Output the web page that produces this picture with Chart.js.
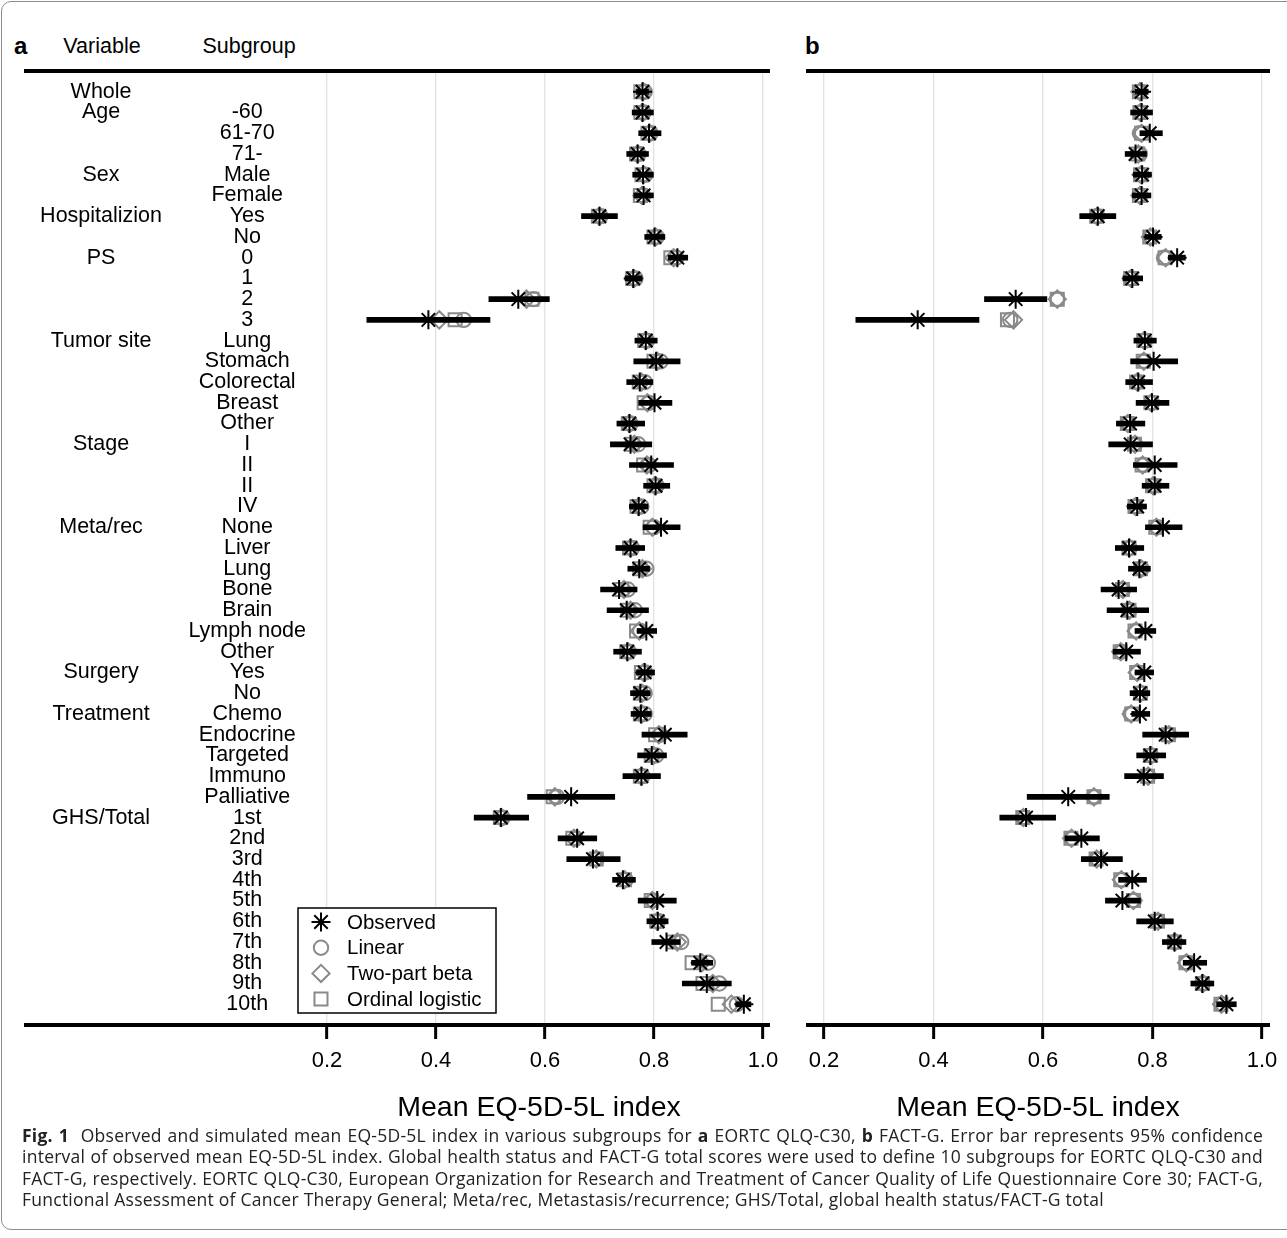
<!DOCTYPE html>
<html>
<head>
<meta charset="utf-8">
<script src="https://cdn.jsdelivr.net/npm/chart.js@4.4.1/dist/chart.umd.min.js"></script>
<style>
body { margin: 0; background: #fff; font-family: "Liberation Sans", Arial, sans-serif; }
#fig { position: relative; width: 1287px; height: 1238px; overflow: hidden; }
#frame { position: absolute; left: 1px; top: 1px; width: 1330px; height: 1229px; border: 1px solid #8c8c8c; border-radius: 10px; box-sizing: border-box; }
.hdr { position: absolute; top: 32px; font-size: 21.5px; line-height: 28px; color: #000; text-align: center; }
.tag { font-weight: bold; font-size: 24px; text-align: left; }
canvas { position: absolute; top: 0; }
#caption { position: absolute; left: 22px; top: 1125px; width: 1241px; font-family: "Open Sans", sans-serif; font-size: 17.5px; letter-spacing: 0.25px; line-height: 21.4px; color: #222; }
#caption .j { text-align: justify; text-align-last: justify; }
</style>
</head>
<body>
<div id="fig">
  <div id="frame"></div>
  <div class="hdr tag" style="left:14px">a</div>
  <div class="hdr" style="left:42px;width:120px">Variable</div>
  <div class="hdr" style="left:189px;width:120px">Subgroup</div>
  <div class="hdr tag" style="left:805px">b</div>
  <canvas id="chart-a" width="790" height="1135" style="left:0"></canvas>
  <canvas id="chart-b" width="497" height="1135" style="left:790px"></canvas>
  <div id="caption">
    <div class="j"><b>Fig. 1</b>&nbsp; Observed and simulated mean EQ-5D-5L index in various subgroups for <b>a</b> EORTC QLQ-C30, <b>b</b> FACT-G. Error bar represents 95% confidence</div>
    <div class="j">interval of observed mean EQ-5D-5L index. Global health status and FACT-G total scores were used to define 10 subgroups for EORTC QLQ-C30 and</div>
    <div class="j">FACT-G, respectively. EORTC QLQ-C30, European Organization for Research and Treatment of Cancer Quality of Life Questionnaire Core 30; FACT-G,</div>
    <div>Functional Assessment of Cancer Therapy General; Meta/rec, Metastasis/recurrence; GHS/Total, global health status/FACT-G total</div>
  </div>
</div>
<script>
// rows, top to bottom
const variables = ['Whole', 'Age', '', '', 'Sex', '', 'Hospitalizion', '', 'PS', '', '', '',
    'Tumor site', '', '', '', '', 'Stage', '', '', '', 'Meta/rec', '', '', '', '', '', '',
    'Surgery', '', 'Treatment', '', '', '', '', 'GHS/Total', '', '', '', '', '', '', '', '', ''];
const subgroups = ['', '-60', '61-70', '71-', 'Male', 'Female', 'Yes', 'No', '0', '1', '2', '3',
    'Lung', 'Stomach', 'Colorectal', 'Breast', 'Other', 'I', 'II', 'II', 'IV',
    'None', 'Liver', 'Lung', 'Bone', 'Brain', 'Lymph node', 'Other', 'Yes', 'No',
    'Chemo', 'Endocrine', 'Targeted', 'Immuno', 'Palliative',
    '1st', '2nd', '3rd', '4th', '5th', '6th', '7th', '8th', '9th', '10th'];
const xTicks = [0.2, 0.4, 0.6, 0.8, 1.0];
const seriesNames = ['Observed', 'Linear', 'Two-part beta', 'Ordinal logistic'];
const axisTitle = 'Mean EQ-5D-5L index';

// a: EORTC QLQ-C30
const obsA = [0.779, 0.779, 0.791, 0.770, 0.780, 0.781, 0.700, 0.801, 0.843, 0.762, 0.551, 0.386,
    0.785, 0.804, 0.774, 0.801, 0.755, 0.757, 0.795, 0.803, 0.772, 0.813, 0.757, 0.773, 0.736,
    0.750, 0.786, 0.751, 0.783, 0.775, 0.776, 0.820, 0.796, 0.777, 0.648,
    0.519, 0.659, 0.688, 0.743, 0.806, 0.807, 0.823, 0.885, 0.897, 0.965];
const loA = [0.768, 0.760, 0.772, 0.750, 0.761, 0.763, 0.667, 0.783, 0.826, 0.747, 0.497, 0.273,
    0.765, 0.763, 0.750, 0.772, 0.732, 0.720, 0.755, 0.781, 0.755, 0.780, 0.730, 0.752, 0.702,
    0.714, 0.769, 0.726, 0.768, 0.757, 0.758, 0.778, 0.770, 0.743, 0.568,
    0.470, 0.624, 0.640, 0.724, 0.771, 0.787, 0.796, 0.869, 0.852, 0.950];
const hiA = [0.790, 0.799, 0.813, 0.790, 0.799, 0.799, 0.733, 0.820, 0.862, 0.778, 0.608, 0.499,
    0.806, 0.848, 0.798, 0.833, 0.783, 0.796, 0.836, 0.829, 0.789, 0.848, 0.783, 0.792, 0.769,
    0.790, 0.805, 0.777, 0.801, 0.793, 0.795, 0.861, 0.823, 0.812, 0.728,
    0.570, 0.695, 0.738, 0.766, 0.841, 0.826, 0.848, 0.908, 0.942, 0.978];
const linA = [0.783, 0.781, 0.794, 0.772, 0.784, 0.780, 0.702, 0.805, 0.841, 0.766, 0.579, 0.451,
    0.787, 0.812, 0.783, 0.791, 0.757, 0.771, 0.791, 0.805, 0.777, 0.800, 0.760, 0.786, 0.752,
    0.765, 0.775, 0.754, 0.784, 0.783, 0.783, 0.812, 0.804, 0.779, 0.622,
    0.522, 0.656, 0.695, 0.748, 0.798, 0.808, 0.850, 0.899, 0.920, 0.952];
const betaA = [0.780, 0.779, 0.792, 0.770, 0.781, 0.778, 0.700, 0.803, 0.836, 0.763, 0.566, 0.406,
    0.785, 0.806, 0.777, 0.788, 0.755, 0.764, 0.787, 0.802, 0.772, 0.797, 0.757, 0.779, 0.745,
    0.757, 0.773, 0.752, 0.781, 0.778, 0.778, 0.809, 0.799, 0.777, 0.618,
    0.520, 0.653, 0.694, 0.746, 0.797, 0.806, 0.843, 0.888, 0.908, 0.942];
const ordA = [0.776, 0.776, 0.789, 0.768, 0.778, 0.775, 0.698, 0.800, 0.831, 0.761, 0.576, 0.435,
    0.783, 0.800, 0.773, 0.782, 0.753, 0.760, 0.781, 0.800, 0.769, 0.793, 0.755, 0.774, 0.741,
    0.752, 0.768, 0.750, 0.777, 0.775, 0.775, 0.803, 0.795, 0.775, 0.615,
    0.518, 0.651, 0.694, 0.746, 0.795, 0.805, 0.836, 0.870, 0.890, 0.918];

// b: FACT-G
const obsB = [0.780, 0.780, 0.795, 0.769, 0.781, 0.780, 0.700, 0.801, 0.845, 0.763, 0.550, 0.371,
    0.786, 0.802, 0.774, 0.799, 0.759, 0.760, 0.804, 0.804, 0.772, 0.819, 0.757, 0.776, 0.738,
    0.754, 0.787, 0.752, 0.785, 0.777, 0.777, 0.824, 0.796, 0.784, 0.646,
    0.569, 0.670, 0.706, 0.763, 0.745, 0.804, 0.840, 0.876, 0.891, 0.935];
const loB = [0.768, 0.760, 0.777, 0.750, 0.765, 0.763, 0.667, 0.786, 0.829, 0.746, 0.493, 0.258,
    0.766, 0.760, 0.751, 0.770, 0.734, 0.720, 0.765, 0.781, 0.754, 0.787, 0.732, 0.756, 0.706,
    0.717, 0.768, 0.728, 0.768, 0.759, 0.762, 0.782, 0.771, 0.749, 0.571,
    0.521, 0.640, 0.670, 0.738, 0.714, 0.771, 0.818, 0.856, 0.870, 0.917];
const hiB = [0.792, 0.800, 0.818, 0.789, 0.798, 0.797, 0.733, 0.816, 0.860, 0.782, 0.607, 0.483,
    0.807, 0.846, 0.800, 0.830, 0.786, 0.800, 0.845, 0.830, 0.789, 0.854, 0.784, 0.796, 0.771,
    0.793, 0.806, 0.778, 0.802, 0.795, 0.795, 0.866, 0.824, 0.820, 0.721,
    0.623, 0.703, 0.745, 0.789, 0.778, 0.838, 0.861, 0.899, 0.912, 0.953];
const linB = [0.777, 0.778, 0.777, 0.777, 0.780, 0.778, 0.699, 0.796, 0.821, 0.761, 0.626, 0.540,
    0.786, 0.785, 0.772, 0.799, 0.755, 0.768, 0.783, 0.802, 0.769, 0.808, 0.758, 0.780, 0.746,
    0.758, 0.770, 0.742, 0.772, 0.779, 0.760, 0.830, 0.797, 0.792, 0.693,
    0.564, 0.652, 0.698, 0.743, 0.766, 0.810, 0.841, 0.862, 0.892, 0.926];
const betaB = [0.777, 0.778, 0.780, 0.774, 0.779, 0.777, 0.699, 0.796, 0.824, 0.761, 0.626, 0.546,
    0.785, 0.784, 0.772, 0.798, 0.755, 0.768, 0.782, 0.801, 0.769, 0.807, 0.758, 0.779, 0.746,
    0.758, 0.770, 0.742, 0.772, 0.778, 0.761, 0.830, 0.797, 0.792, 0.693,
    0.564, 0.652, 0.698, 0.743, 0.765, 0.810, 0.841, 0.862, 0.892, 0.926];
const ordB = [0.776, 0.777, 0.780, 0.773, 0.778, 0.776, 0.698, 0.795, 0.823, 0.760, 0.626, 0.535,
    0.784, 0.783, 0.771, 0.797, 0.754, 0.767, 0.781, 0.800, 0.768, 0.806, 0.757, 0.778, 0.745,
    0.757, 0.768, 0.741, 0.771, 0.778, 0.762, 0.829, 0.796, 0.791, 0.693,
    0.563, 0.651, 0.697, 0.742, 0.765, 0.809, 0.840, 0.861, 0.891, 0.925];

const GRAY = '#8a8a8a';
const LABEL_FONT = { family: '"Liberation Sans", Arial, sans-serif', size: 21.5 };

function rowPoints(values) {
    return values.map((v, i) => ({ x: v, y: i }));
}

function markerSet(label, values, style, radius, color, order) {
    return {
        type: 'line', label: label, data: rowPoints(values), showLine: false,
        pointStyle: style, pointRadius: radius, pointHoverRadius: radius,
        pointBorderColor: color, pointBackgroundColor: 'rgba(0,0,0,0)', pointBorderWidth: 2,
        borderColor: color, order: order
    };
}

// y axis that only shows row labels
function rowAxis(labels, weight, width, shown) {
    return {
        type: 'linear', axis: 'y', position: 'left', reverse: true, bounds: 'data', offset: false,
        min: -1, max: labels.length, display: shown, weight: weight,
        afterBuildTicks: s => { s.ticks = labels.map((_, i) => ({ value: i })); },
        afterFit: s => { s.width = shown ? width : 0; },
        grid: { display: false, drawTicks: false },
        border: { display: false },
        ticks: { autoSkip: false, crossAlign: 'center', padding: 2, color: '#000', font: LABEL_FONT,
            callback: v => labels[v] }
    };
}

// thick rules at the top and bottom of a panel
const panelRules = {
    id: 'panelRules',
    beforeDatasetsDraw(chart) {
        const { ctx, chartArea } = chart;
        const yv = chart.scales.yv;
        const left = yv && yv.options.display ? yv.left : chartArea.left;
        ctx.save();
        ctx.strokeStyle = '#000';
        ctx.lineWidth = 4;
        [chartArea.top, chartArea.bottom].forEach(y => {
            ctx.beginPath();
            ctx.moveTo(left, y);
            ctx.lineTo(chartArea.right, y);
            ctx.stroke();
        });
        ctx.restore();
    }
};

// boxed legend inside panel a
const boxLegend = {
    id: 'boxLegend',
    afterDatasetsDraw(chart) {
        const { ctx, chartArea } = chart;
        const x0 = chartArea.left - 10;
        const y1 = chartArea.bottom - 12;
        const w = 198, h = 105, y0 = y1 - h;
        ctx.save();
        ctx.fillStyle = '#fff';
        ctx.fillRect(x0, y0, w, h);
        ctx.strokeStyle = '#000';
        ctx.lineWidth = 1.5;
        ctx.strokeRect(x0, y0, w, h);
        const markers = chart.data.datasets.filter(d => d.type === 'line');
        markers.forEach((ds, i) => {
            const cy = y0 + 14 + i * 25.7;
            ctx.strokeStyle = ds.pointBorderColor;
            ctx.fillStyle = 'rgba(0,0,0,0)';
            ctx.lineWidth = ds.pointBorderWidth;
            Chart.helpers.drawPoint(ctx, { pointStyle: ds.pointStyle, radius: ds.pointRadius, borderWidth: ds.pointBorderWidth, rotation: 0 }, x0 + 23, cy);
            ctx.fillStyle = '#000';
            ctx.font = '20.5px "Liberation Sans", Arial, sans-serif';
            ctx.textBaseline = 'middle';
            ctx.fillText(ds.label, x0 + 49, cy + 1);
        });
        ctx.restore();
    }
};

function buildChart(canvasId, p, opts) {
    const datasets = [
        markerSet(seriesNames[0], p.obs, 'star', 9.5, '#000', 0),
        {
            type: 'bar', label: '95% CI', data: p.lo.map((lo, i) => ({ x: [lo, p.hi[i]], y: i })),
            backgroundColor: '#000', barThickness: 5, order: 1
        },
        markerSet(seriesNames[1], p.lin, 'circle', 7.2, GRAY, 2),
        markerSet(seriesNames[2], p.beta, 'rectRot', 8.6, GRAY, 3),
        markerSet(seriesNames[3], p.ord, 'rect', 9.2, GRAY, 4)
    ];
    return new Chart(document.getElementById(canvasId), {
        type: 'bar',
        data: { datasets: datasets },
        plugins: opts.legend ? [panelRules, boxLegend] : [panelRules],
        options: {
            indexAxis: 'y',
            responsive: false,
            animation: false,
            events: [],
            layout: { padding: opts.padding },
            plugins: { legend: { display: false }, tooltip: { enabled: false } },
            scales: {
                x: {
                    type: 'linear', position: 'bottom', bounds: 'data', min: opts.min, max: opts.max,
                    afterBuildTicks: s => { s.ticks = xTicks.map(v => ({ value: v })); },
                    afterFit: s => { s.height = 110; },
                    grid: { color: '#e2e2e2', lineWidth: 1.3, drawTicks: true, tickLength: 14, tickColor: '#000', tickWidth: 3 },
                    border: { display: false },
                    ticks: { autoSkip: false, maxRotation: 0, padding: 9, color: '#000',
                        font: { family: LABEL_FONT.family, size: 22 }, callback: v => v.toFixed(1) },
                    title: { display: true, text: axisTitle, color: '#000',
                        font: { family: LABEL_FONT.family, size: 28.5 }, padding: { top: 0, bottom: 10 } }
                },
                y: rowAxis(subgroups, 0, 144, opts.labels),
                yv: rowAxis(variables, 1, 140, opts.labels)
            }
        }
    });
}

buildChart('chart-a', { obs: obsA, lo: loA, hi: hiA, lin: linA, beta: betaA, ord: ordA },
    { labels: true, legend: true, min: 0.165, max: 1.013, padding: { left: 24, right: 20, top: 71, bottom: 0 } });
buildChart('chart-b', { obs: obsB, lo: loB, hi: hiB, lin: linB, beta: betaB, ord: ordB },
    { labels: false, legend: false, min: 0.167, max: 1.0146, padding: { left: 16, right: 17, top: 71, bottom: 0 } });
</script>
</body>
</html>
